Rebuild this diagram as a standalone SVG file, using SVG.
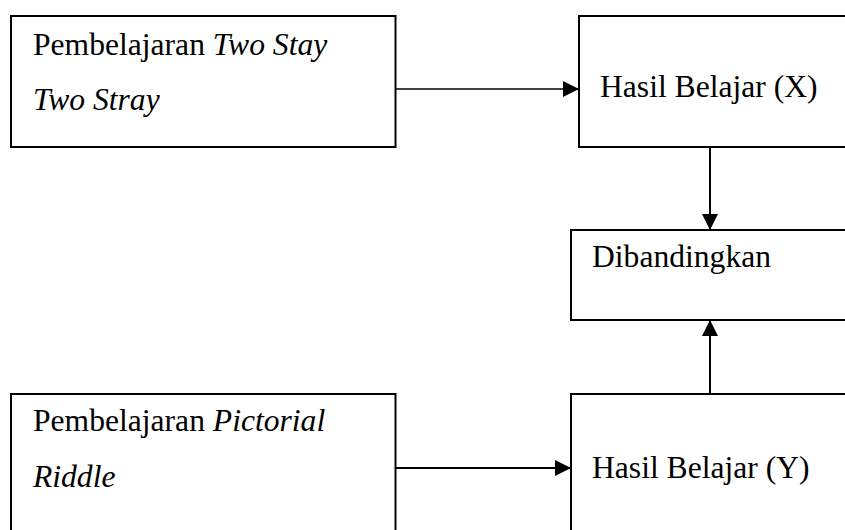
<svg xmlns="http://www.w3.org/2000/svg" width="845" height="530" viewBox="0 0 845 530">
<style>
.box{fill:#fff;stroke:#000;stroke-width:2}
.t{font-family:"Liberation Serif","Times New Roman",serif;font-size:31.6px;fill:#000}
.i{font-style:italic}
.c{stroke:#000;fill:none}
</style>
<defs>
<marker id="ah" markerUnits="userSpaceOnUse" markerWidth="17" markerHeight="16" refX="16" refY="8" orient="auto">
<path d="M0,0 L16,8 L0,16 Z" fill="#000"/>
</marker>
</defs>
<rect width="845" height="530" fill="#fff"/>
<g id="n1">
<rect class="box" x="11" y="16" width="384.5" height="131"/>
<text class="t" x="33" y="55">Pembelajaran <tspan class="i">Two Stay</tspan></text>
<text class="t i" x="33" y="110">Two Stray</text>
</g>
<g id="n2">
<rect class="box" x="579" y="16" width="280" height="131"/>
<text class="t" x="600" y="97">Hasil Belajar (X)</text>
</g>
<g id="n3">
<rect class="box" x="571" y="230" width="290" height="90"/>
<text class="t" x="592" y="267">Dibandingkan</text>
</g>
<g id="n4">
<rect class="box" x="11" y="394" width="384.5" height="150"/>
<text class="t" x="33" y="431">Pembelajaran <tspan class="i">Pictorial</tspan></text>
<text class="t i" x="33" y="487">Riddle</text>
</g>
<g id="n5">
<rect class="box" x="571" y="394" width="290" height="150"/>
<text class="t" x="592" y="478">Hasil Belajar (Y)</text>
</g>
<g id="connectors">
<line class="c" x1="395.5" y1="89" x2="579" y2="89" stroke-width="1.3" marker-end="url(#ah)"/>
<line class="c" x1="710" y1="147" x2="710" y2="230" stroke-width="2" marker-end="url(#ah)"/>
<line class="c" x1="710" y1="394" x2="710" y2="320" stroke-width="2" marker-end="url(#ah)"/>
<line class="c" x1="395.5" y1="468" x2="571" y2="468" stroke-width="2" marker-end="url(#ah)"/>
</g>
</svg>
